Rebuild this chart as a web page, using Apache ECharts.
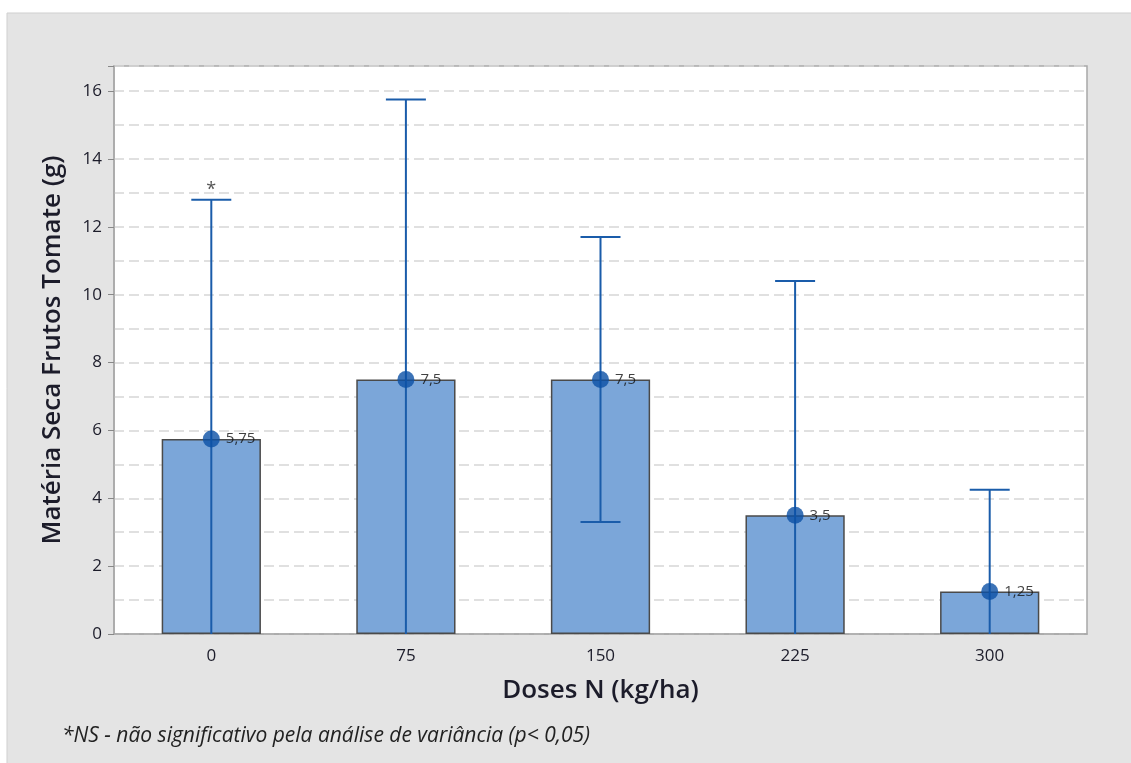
<!DOCTYPE html>
<html>
<head>
<meta charset="utf-8">
<script src="https://cdn.jsdelivr.net/npm/echarts@6/dist/echarts.min.js"></script>
<style>
  html, body { margin: 0; padding: 0; background: #fff; }
  #main { width: 1131px; height: 763px; }
</style>
</head>
<body>
<div id="main"></div>
<script>
  // dados
  var doses = ['0', '75', '150', '225', '300'];
  var medias = [5.75, 7.5, 7.5, 3.5, 1.25];
  var erroSup = [12.8, 15.75, 11.7, 10.4, 4.25];
  var erroInf = [0, 0, 3.3, 0, 0];
  var marcas = ['*', '', '', '', ''];

  var fonte = '"Open Sans", "Noto Sans", sans-serif';
  var azul = '#1a5caa';
  var texto = '#1c1c2a';

  var chart = echarts.init(document.getElementById('main'));

  chart.setOption({
    animation: false,
    textStyle: { fontFamily: fonte },
    graphic: [
      {
        type: 'rect',
        z: -10,
        shape: { x: 7, y: 13, width: 1130, height: 760 },
        style: { fill: '#e4e4e4', stroke: '#cfcfcf', lineWidth: 1 }
      },
      {
        type: 'text',
        left: 62,
        top: 726,
        style: {
          text: '*NS - não significativo pela análise de variância (p< 0,05)',
          font: 'italic 21px ' + fonte,
          fill: '#222'
        }
      }
    ],
    grid: {
      left: 114,
      right: 44,
      top: 66,
      bottom: 129,
      show: true,
      backgroundColor: '#fff',
      borderColor: '#a8a8a8',
      borderWidth: 1.5
    },
    xAxis: {
      type: 'category',
      data: doses,
      name: 'Doses N (kg/ha)',
      nameLocation: 'middle',
      nameGap: 44,
      nameTextStyle: { fontSize: 26, fontWeight: 600, color: texto, fontFamily: fonte },
      axisLine: { lineStyle: { color: '#a8a8a8', width: 1.5 } },
      axisTick: { alignWithLabel: true, length: 5, lineStyle: { color: '#888' } },
      axisLabel: { fontSize: 17, color: texto, margin: 14 },
      splitLine: { show: false }
    },
    yAxis: {
      type: 'value',
      min: 0,
      max: 16.74,
      interval: 2,
      name: 'Matéria Seca Frutos Tomate (g)',
      nameLocation: 'middle',
      nameGap: 48,
      nameTextStyle: { fontSize: 26, fontWeight: 600, color: texto, fontFamily: fonte },
      axisLine: { show: true, lineStyle: { color: '#a8a8a8', width: 1.5 } },
      axisTick: { show: true, length: 6, lineStyle: { color: '#888' } },
      axisLabel: {
        fontSize: 17, color: texto, margin: 12,
        formatter: function (v) { return (v % 2 === 0) ? String(v) : ''; }
      },
      splitLine: { show: true, lineStyle: { color: '#d6d6d6', type: [10, 5], width: 1.5 } },
      minorTick: { show: false, splitNumber: 2 },
      minorSplitLine: { show: true, lineStyle: { color: '#d6d6d6', type: [10, 5], width: 1.5 } }
    },
    series: [
      {
        type: 'bar',
        data: medias,
        barWidth: '51%',
        itemStyle: { color: '#7ba6d9', borderColor: '#4a4a4a', borderWidth: 1.5 },
        z: 2
      },
      {
        type: 'custom',
        z: 3,
        data: doses.map(function (d, i) { return [i, erroInf[i], erroSup[i]]; }),
        renderItem: function (params, api) {
          var i = api.value(0);
          var baixo = api.coord([i, api.value(1)]);
          var alto = api.coord([i, api.value(2)]);
          var meia = 20;
          var filhos = [
            { type: 'line', shape: { x1: alto[0], y1: alto[1], x2: baixo[0], y2: baixo[1] },
              style: { stroke: azul, lineWidth: 2 } },
            { type: 'line', shape: { x1: alto[0] - meia, y1: alto[1], x2: alto[0] + meia, y2: alto[1] },
              style: { stroke: azul, lineWidth: 2 } }
          ];
          if (api.value(1) > 0) {
            filhos.push({ type: 'line', shape: { x1: baixo[0] - meia, y1: baixo[1], x2: baixo[0] + meia, y2: baixo[1] },
              style: { stroke: azul, lineWidth: 2 } });
          }
          if (marcas[params.dataIndex]) {
            filhos.push({ type: 'text', x: alto[0], y: alto[1] - 1,
              style: { text: marcas[params.dataIndex], fill: '#555', font: '18px ' + fonte,
                align: 'center', verticalAlign: 'bottom' } });
          }
          return { type: 'group', children: filhos };
        }
      },
      {
        type: 'scatter',
        z: 4,
        data: medias,
        symbol: 'circle',
        symbolSize: 17,
        itemStyle: { color: '#0b50a5' },
        label: {
          show: true,
          position: 'right',
          distance: 6,
          fontSize: 15,
          color: '#111',
          formatter: function (p) { return String(p.value).replace('.', ','); }
        }
      }
    ]
  });
</script>
</body>
</html>
